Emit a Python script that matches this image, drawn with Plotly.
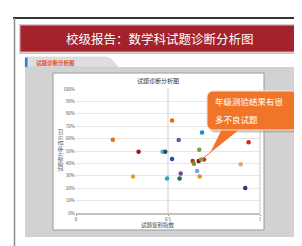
import plotly.graph_objects as go

# ---- data ----
x_vals = [0.20, 0.34, 0.47, 0.485, 0.31, 0.495, 0.522, 0.685, 0.558, 0.938, 0.67, 0.522,
          0.634, 0.667, 0.696, 0.68, 0.641, 0.895, 0.658, 0.569, 0.672, 0.563, 0.92]
y_vals = [0.59, 0.494, 0.494, 0.494, 0.294, 0.278, 0.745, 0.65, 0.589, 0.57, 0.51, 0.435,
          0.419, 0.419, 0.432, 0.432, 0.397, 0.394, 0.338, 0.318, 0.294, 0.278, 0.202]
point_colors = ["#E46C0A", "#A0161E", "#6FA8DC", "#17575F", "#E8A020", "#31A2C8", "#E46C0A",
                "#1F8BC8", "#7052A0", "#D02828", "#77A33A", "#1F4E9A", "#C0302A", "#8B0A1A",
                "#D03030", "#7AAA3A", "#6A9A30", "#F0A060", "#6AAAE0", "#6A4A9A", "#E8901A",
                "#1A6A70", "#402A80"]
y_ticks = [0, 0.1, 0.2, 0.3, 0.4, 0.5, 0.6, 0.7, 0.8, 0.9, 1.0]
y_tick_labels = ["0%", "10%", "20%", "30%", "40%", "50%", "60%", "70%", "80%", "90%", "100%"]
x_ticks = [0, 0.5, 1]
x_tick_labels = ["0", "0.5", "1"]

W, H = 302, 246
L, R, T, B = 68, 50, 81, 41
PW, PH = W - L - R, H - T - B

def px(x):
    return (x - L) / PW

def py(y):
    return (H - B - y) / PH

def path(points, close=True):
    s = "M " + " L ".join(f"{px(a):.5f},{py(b):.5f}" for a, b in points)
    return s + (" Z" if close else "")

def rrect(x0, y0, x1, y1, r):
    import math
    pts = []
    for cx, cy, a0 in [(x1 - r, y0 + r, -90), (x1 - r, y1 - r, 0), (x0 + r, y1 - r, 90), (x0 + r, y0 + r, 180)]:
        for k in range(7):
            a = math.radians(a0 + k * 15)
            pts.append((cx + r * math.cos(a), cy + r * math.sin(a)))
    return pts

fig = go.Figure()
fig.add_trace(go.Scatter(x=x_vals, y=y_vals, mode="markers",
                         marker=dict(size=4.5, color=point_colors, line=dict(width=0)),
                         hoverinfo="skip", showlegend=False))

shapes = []
def rect(x0, y0, x1, y1, fill, line=None, lw=0, layer="below"):
    shapes.append(dict(type="rect", xref="paper", yref="paper", x0=px(x0), x1=px(x1), y0=py(y1), y1=py(y0),
                       fillcolor=fill, line=dict(color=line or fill, width=lw), layer=layer))

def seg(x0, y0, x1, y1, color, w, layer="below"):
    shapes.append(dict(type="line", xref="paper", yref="paper", x0=px(x0), x1=px(x1), y0=py(y0), y1=py(y1),
                       line=dict(color=color, width=w), layer=layer))

# page frame
seg(5, 10, 302, 10, "#333333", 2)
seg(6.5, 10, 6.5, 246, "#8a8a8a", 1.5)
# banner
rect(11, 16, 294, 46, "#c8c8c8")
rect(12, 17, 292, 44, "#A3222B", "#e8d0d0", 0.8)
# gray panel and tab
rect(17, 59, 287, 229, "#D2D2D2")
shapes.append(dict(type="path", xref="paper", yref="paper",
                   path=path([(17, 59), (17, 51), (19, 49), (98, 49), (103, 51), (110, 59)]),
                   fillcolor="#DEDEDE", line=dict(color="#c8c8c8", width=0.5), layer="below"))
rect(17, 49.5, 19.5, 59, "#2F7FD0")
# white chart box
rect(45, 65, 256, 222, "#FFFFFF", "#9a9a9a", 1)
# plot frame right line and middle vertical gridline
seg(252, 81, 252, 205, "#c8c8c8", 1)
shapes.append(dict(type="line", xref="x", yref="paper", x0=0.5, x1=0.5, y0=0, y1=1,
                   line=dict(color="#cfcfcf", width=1), layer="below"))

# callout
shapes.append(dict(type="path", xref="paper", yref="paper",
                   path=path(rrect(201, 85, 292, 124.5, 6)),
                   fillcolor="#9a7a6a", line=dict(width=0), layer="above", opacity=0.45))
shapes.append(dict(type="path", xref="paper", yref="paper",
                   path=path([(214, 121), (232, 121), (202, 145)]),
                   fillcolor="#F07528", line=dict(width=0), layer="above"))
shapes.append(dict(type="path", xref="paper", yref="paper",
                   path=path(rrect(199, 83, 290, 122, 6)),
                   fillcolor="#F07528", line=dict(color="#fbe3d3", width=1), layer="above"))
seg(203, 144, 194, 151, "#E07A3A", 1, layer="above")

annotations = [
    dict(text="校级报告：数学科试题诊断分析图", x=px(152), y=py(30.5), xref="paper", yref="paper",
         showarrow=False, font=dict(family="Noto Sans CJK SC", size=12.5, color="#FFFFFF"),
         xanchor="center", yanchor="middle"),
    dict(text="<b>试题诊断分析图</b>", x=px(26), y=py(54.5), xref="paper", yref="paper",
         showarrow=False, font=dict(family="Noto Sans CJK SC", size=5.5, color="#E0502A"),
         xanchor="left", yanchor="middle"),
    dict(text="试题诊断分析图", x=px(150), y=py(72.5), xref="paper", yref="paper",
         showarrow=False, font=dict(family="Noto Sans CJK SC", size=6, color="#333333"),
         xanchor="center", yanchor="middle"),
    dict(text="试题得分率(百分比)", x=px(52), y=py(142), xref="paper", yref="paper",
         showarrow=False, textangle=-90, font=dict(family="Noto Sans CJK SC", size=5, color="#444444"),
         xanchor="center", yanchor="middle"),
    dict(text="试题鉴别指数", x=px(150), y=py(216.5), xref="paper", yref="paper",
         showarrow=False, font=dict(family="Noto Sans CJK SC", size=5.5, color="#444444"),
         xanchor="center", yanchor="middle"),
    dict(text="年级测验结果有很", x=px(205), y=py(93), xref="paper", yref="paper",
         showarrow=False, font=dict(family="Noto Sans CJK SC", size=8.5, color="#FFFFFF"),
         xanchor="left", yanchor="middle"),
    dict(text="多不良试题", x=px(205), y=py(111), xref="paper", yref="paper",
         showarrow=False, font=dict(family="Noto Sans CJK SC", size=8.5, color="#FFFFFF"),
         xanchor="left", yanchor="middle"),
]

fig.update_layout(
    width=W, height=H, margin=dict(l=L, r=R, t=T, b=B, pad=0),
    paper_bgcolor="#FFFFFF", plot_bgcolor="rgba(0,0,0,0)",
    shapes=shapes, annotations=annotations, showlegend=False,
    xaxis=dict(range=[0, 1], tickvals=x_ticks, ticktext=x_tick_labels, showgrid=False,
               zeroline=False, showline=True, linecolor="#c0c0c0",
               linewidth=2, ticks="outside", ticklen=1, tickcolor="#999999",
               tickfont=dict(size=4.5, color="#555555", family="Noto Sans CJK SC"), fixedrange=True),
    yaxis=dict(range=[0, 1], tickvals=y_ticks, ticktext=y_tick_labels, showgrid=True,
               gridcolor="#e6e6e6", gridwidth=1, zeroline=False, showline=False, ticks="",
               tickfont=dict(size=4.5, color="#555555", family="Noto Sans CJK SC"), fixedrange=True),
)

fig.write_html("out.html")
